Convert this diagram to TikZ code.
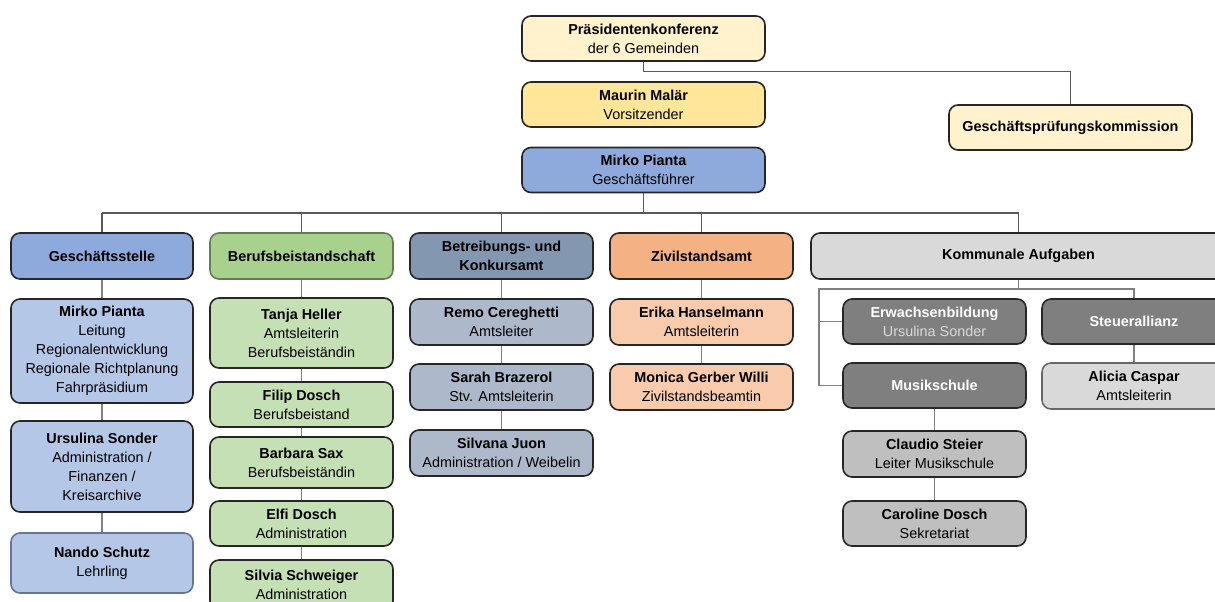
\documentclass[tikz,border=0pt]{standalone}
\usepackage{fontspec}
\setmainfont{Liberation Sans}
\definecolor{bd}{HTML}{262626}
\definecolor{ln}{HTML}{595959}
\definecolor{lnb}{HTML}{808080}
\definecolor{ylA}{HTML}{FFF2CC}
\definecolor{ylB}{HTML}{FFE699}
\definecolor{blA}{HTML}{8EA9DB}
\definecolor{blB}{HTML}{B4C7E7}
\definecolor{grA}{HTML}{A9D18E}
\definecolor{grB}{HTML}{C5E0B4}
\definecolor{slA}{HTML}{8497B0}
\definecolor{slB}{HTML}{ADB9CA}
\definecolor{orA}{HTML}{F4B183}
\definecolor{orB}{HTML}{F8CBAD}
\definecolor{gyA}{HTML}{D9D9D9}
\definecolor{gyB}{HTML}{7F7F7F}
\definecolor{gyC}{HTML}{BFBFBF}
\begin{document}
\begin{tikzpicture}[x=0.5pt,y=-0.5pt,
  box/.style={draw=bd, line width=0.8pt, rounded corners=4.5pt, align=center,
    inner sep=0pt, font=\fontsize{7.2}{9.5}\selectfont, minimum width=91.5pt, minimum height=22.5pt},
  wide/.style={minimum width=121.5pt},
  conn/.style={draw=ln, line width=0.55pt},
  connb/.style={draw=lnb, line width=0.6pt}]
\useasboundingbox (0,0) rectangle (1215,601);
\clip (0,0) rectangle (1215,601);
% top
\node[box,wide,fill=ylA] (pk) at (643.5,38.5) {\textbf{Präsidentenkonferenz}\\der 6 Gemeinden};
\node[box,wide,fill=ylB] (mm) at (643.5,104.5) {\textbf{Maurin Malär}\\Vorsitzender};
\node[box,wide,fill=ylA] (gpk) at (1070.5,127.5) {\textbf{Geschäftsprüfungskommission}};
\node[box,wide,fill=blA] (mp) at (643.5,170) {\textbf{Mirko Pianta}\\Geschäftsführer};
% headers
\node[box,fill=blA,minimum width=91pt,minimum height=23pt] (gs) at (102,256) {\textbf{Geschäftsstelle}};
\node[box,fill=grA,draw=grA!60!black,minimum height=23pt] (bb) at (301.5,256) {\textbf{Berufsbeistandschaft}};
\node[box,fill=slA,minimum height=23pt] (bk) at (501.5,256) {\textbf{Betreibungs- und}\\\textbf{Konkursamt}};
\node[box,fill=orA,minimum height=23pt] (zs) at (701.5,256) {\textbf{Zivilstandsamt}};
\node[box,fill=gyA,minimum width=207.5pt,minimum height=23pt] (ka) at (1018.5,256) {\textbf{Kommunale Aufgaben}};
% Geschaeftsstelle
\node[box,fill=blB,minimum width=91pt,minimum height=52pt] (gs1) at (102,351) {\textbf{Mirko Pianta}\\Leitung\\Regionalentwicklung\\Regionale Richtplanung\\Fahrpräsidium};
\node[box,fill=blB,minimum width=91pt,minimum height=45.5pt] (gs2) at (102,466.5) {\textbf{Ursulina Sonder}\\Administration /\\Finanzen /\\Kreisarchive};
\node[box,fill=blB,draw=blA!70!black,minimum width=91pt,minimum height=30pt] (gs3) at (102,563) {\textbf{Nando Schutz}\\Lehrling};
% Berufsbeistandschaft
\node[box,fill=grB,minimum height=35pt] (bb1) at (301.5,333) {\textbf{Tanja Heller}\\Amtsleiterin\\Berufsbeiständin};
\node[box,fill=grB] (bb2) at (301.5,404.5) {\textbf{Filip Dosch}\\Berufsbeistand};
\node[box,fill=grB,minimum height=25.5pt] (bb3) at (301.5,462.5) {\textbf{Barbara Sax}\\Berufsbeiständin};
\node[box,fill=grB] (bb4) at (301.5,523.5) {\textbf{Elfi Dosch}\\Administration};
\node[box,fill=grB,minimum height=25pt] (bb5) at (301.5,585) {\textbf{Silvia Schweiger}\\Administration};
% Betreibungs
\node[box,fill=slB,minimum height=23pt] (bk1) at (501.5,322) {\textbf{Remo Cereghetti}\\Amtsleiter};
\node[box,fill=slB,minimum height=23pt] (bk2) at (501.5,387) {\textbf{Sarah Brazerol}\\Stv. Amtsleiterin};
\node[box,fill=slB,minimum height=23pt] (bk3) at (501.5,453) {\textbf{Silvana Juon}\\Administration / Weibelin};
% Zivilstandsamt
\node[box,fill=orB,minimum height=23pt] (zs1) at (701.5,322) {\textbf{Erika Hanselmann}\\Amtsleiterin};
\node[box,fill=orB,minimum height=23pt] (zs2) at (701.5,387) {\textbf{Monica Gerber Willi}\\Zivilstandsbeamtin};
% Kommunale
\node[box,fill=gyB,text=white] (eb) at (934.5,321.5) {\textbf{Erwachsenbildung}\\\textcolor{gyA}{Ursulina Sonder}};
\node[box,fill=gyB,text=white] (ms) at (934.5,385.5) {\textbf{Musikschule}};
\node[box,fill=gyC,minimum height=23pt] (cs) at (934.5,454) {\textbf{Claudio Steier}\\Leiter Musikschule};
\node[box,fill=gyC] (cd) at (934.5,523.5) {\textbf{Caroline Dosch}\\Sekretariat};
\node[box,fill=gyB,text=white,minimum width=92pt] (st) at (1134,321.5) {\textbf{Steuerallianz}};
\node[box,fill=gyA,draw=bd!70,minimum width=92pt,minimum height=23pt] (ac) at (1134,386) {\textbf{Alicia Caspar}\\Amtsleiterin};
% connectors top
\draw[conn] (pk.south) -- ++(0,10) -| (gpk.north);
\coordinate (busy) at (0,213);
\draw[conn] (mp.south) -- (mp.south |- busy);
\draw[conn] (gs.north |- busy) -- (ka.north |- busy);
\foreach \n in {gs,bb,bk,zs,ka} \draw[conn] (\n.north |- busy) -- (\n.north);
% columns
\draw[connb] (gs.south) -- (gs1.north);
\draw[connb] (gs1.south) -- (gs2.north);
\draw[connb] (gs2.south) -- (gs3.north);
\draw[connb] (bb.south) -- (bb1.north);
\draw[connb] (bb1.south) -- (bb2.north);
\draw[connb] (bb2.south) -- (bb3.north);
\draw[connb] (bb3.south) -- (bb4.north);
\draw[connb] (bb4.south) -- (bb5.north);
\draw[connb] (bk.south) -- (bk1.north);
\draw[connb] (bk1.south) -- (bk2.north);
\draw[connb] (bk2.south) -- (bk3.north);
\draw[connb] (zs.south) -- (zs1.north);
\draw[connb] (zs1.south) -- (zs2.north);
% kommunale
\coordinate (kb) at (1018.5,289);
\coordinate (kl) at (819,289);
\draw[connb] (ka.south) -- (kb);
\draw[connb] (kb) -| (st.north);
\draw[connb] (kb) -- (kl) |- (ms.west);
\draw[connb] (kl |- eb.west) -- (eb.west);
\draw[connb] (st.south) -- (ac.north);
\draw[connb] (ms.south) -- (cs.north);
\draw[connb] (cs.south) -- (cd.north);
\end{tikzpicture}
\end{document}
